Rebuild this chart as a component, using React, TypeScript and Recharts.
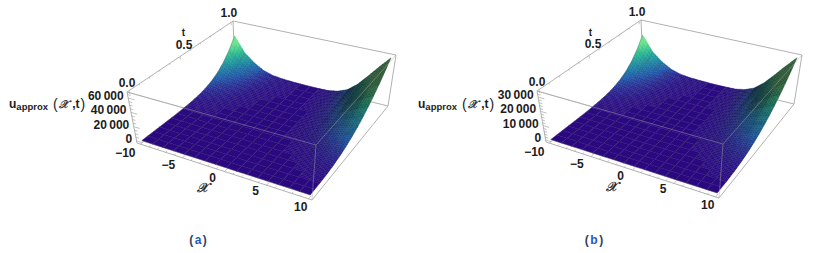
import { ScatterChart, Scatter, XAxis, YAxis } from "recharts";

const PANEL_W = 407;
const PANEL_H = 253;

// mesh nodes
const xNodes = [-10, -8.75, -7.5, -6.25, -5, -3.75, -2.5, -1.25, 0, 1.25, 2.5, 3.75, 5, 6.25, 7.5, 8.75, 10];
const tNodes = [0, 0.0625, 0.125, 0.1875, 0.25, 0.3125, 0.375, 0.4375, 0.5, 0.5625, 0.625, 0.6875, 0.75, 0.8125, 0.875, 0.9375, 1];

// u values, one row per t node
const uValuesA = [
  [0, 0, 0, 0, 0, 0, 0, 0, 0, 0, 0, 0, 0, 0, 0, 0, 0],
  [0, 0, 0, 0, 0, 0, 0, 0, 0, 0, 0, 0, 1, 2, 4, 8, 16],
  [0, 1, 1, 0, 0, 0, 2, 1, 1, 1, 2, 5, 14, 30, 64, 100, 132],
  [3, 3, 4, 2, 2, 2, 5, 3, 3, 3, 7, 16, 46, 99, 211, 330, 435],
  [12, 14, 15, 7, 6, 6, 12, 8, 6, 8, 16, 39, 109, 234, 500, 780, 1030],
  [40, 46, 45, 21, 16, 14, 24, 15, 12, 15, 30, 76, 214, 458, 976, 1525, 2010],
  [140, 120, 111, 52, 36, 30, 42, 26, 21, 26, 53, 132, 369, 790, 1690, 2635, 3480],
  [340, 286, 240, 112, 72, 55, 67, 42, 33, 42, 84, 209, 586, 1255, 2680, 4185, 5520],
  [765, 590, 465, 217, 133, 94, 100, 62, 50, 62, 125, 440, 1130, 2490, 4500, 6500, 8250],
  [1550, 1130, 840, 392, 225, 150, 142, 89, 71, 89, 178, 620, 1610, 3550, 6400, 9300, 11750],
  [2900, 2030, 1430, 665, 363, 230, 195, 122, 98, 122, 244, 850, 2200, 4870, 8780, 12800, 16100],
  [5200, 3430, 2300, 1070, 555, 335, 260, 163, 130, 163, 325, 1140, 2930, 6480, 11700, 17000, 21450],
  [8700, 5500, 3550, 1660, 820, 470, 338, 211, 169, 211, 422, 1480, 3800, 8400, 15200, 22100, 27850],
  [14100, 8600, 5300, 2480, 1180, 650, 430, 268, 214, 268, 536, 1880, 4840, 10700, 19300, 28000, 35400],
  [22000, 13000, 7700, 3590, 1650, 880, 536, 335, 268, 335, 670, 2350, 6050, 13400, 24100, 35000, 44200],
  [33300, 18900, 10900, 5070, 2240, 1160, 660, 410, 330, 410, 820, 2880, 7440, 16500, 29700, 43000, 54400],
  [49000, 27000, 15000, 7000, 3000, 1500, 800, 500, 400, 500, 1000, 3500, 9000, 20000, 35000, 51000, 66000],
];

// u values
const uValuesB = [
  [0, 0, 0, 0, 0, 0, 0, 0, 0, 0, 0, 0, 0, 0, 0, 0, 0],
  [0, 0, 0, 0, 0, 0, 0, 0, 0, 0, 0, 0, 1, 1, 2, 4, 8],
  [0, 0, 0, 0, 0, 0, 1, 1, 1, 1, 1, 3, 7, 15, 32, 50, 66],
  [2, 2, 2, 1, 1, 1, 3, 2, 2, 2, 4, 8, 23, 50, 105, 165, 218],
  [6, 7, 8, 4, 3, 3, 6, 4, 3, 4, 8, 20, 55, 117, 250, 390, 515],
  [20, 23, 23, 11, 8, 7, 12, 8, 6, 8, 15, 38, 107, 229, 488, 762, 1005],
  [70, 60, 56, 26, 18, 15, 21, 13, 11, 13, 27, 66, 185, 395, 845, 1318, 1740],
  [170, 143, 120, 56, 36, 28, 34, 21, 17, 21, 42, 105, 293, 628, 1340, 2092, 2760],
  [382, 295, 232, 108, 66, 47, 50, 31, 25, 31, 62, 220, 565, 1245, 2250, 3250, 4125],
  [775, 565, 420, 196, 112, 75, 71, 44, 36, 44, 89, 310, 805, 1775, 3200, 4650, 5875],
  [1450, 1015, 715, 332, 182, 115, 98, 61, 49, 61, 122, 425, 1100, 2435, 4390, 6400, 8050],
  [2600, 1715, 1150, 535, 278, 168, 130, 82, 65, 82, 162, 570, 1465, 3240, 5850, 8500, 10725],
  [4350, 2750, 1775, 830, 410, 235, 169, 106, 85, 106, 211, 740, 1900, 4200, 7600, 11050, 13925],
  [7050, 4300, 2650, 1240, 590, 325, 215, 134, 107, 134, 268, 940, 2420, 5350, 9650, 14000, 17700],
  [11000, 6500, 3850, 1795, 825, 440, 268, 168, 134, 168, 335, 1175, 3025, 6700, 12050, 17500, 22100],
  [16650, 9450, 5450, 2535, 1120, 580, 330, 205, 165, 205, 410, 1440, 3720, 8250, 14850, 21500, 27200],
  [24500, 13500, 7500, 3500, 1500, 750, 400, 250, 200, 250, 500, 1750, 4500, 10000, 17500, 25500, 33000],
];

const xMajor = [-10, -5, 0, 5, 10];
const xMinor = [-9, -8, -7, -6, -4, -3, -2, -1, 1, 2, 3, 4, 6, 7, 8, 9];
const tMajor = [0, 0.5, 1];
const tMinor = [0.1, 0.2, 0.3, 0.4, 0.6, 0.7, 0.8, 0.9];
const uMajorA = [0, 20000, 40000, 60000];
const uMinorA = [5000, 10000, 15000, 25000, 30000, 35000, 45000, 50000, 55000, 65000];
const uMajorB = [0, 10000, 20000, 30000];
const uMinorB = [2000, 4000, 6000, 8000, 12000, 14000, 16000, 18000, 22000, 24000, 26000, 28000, 32000];
const xLabels = ["\u221210", "\u22125", "0", "5", "10"];
const tLabels = ["0.0", "0.5", "1.0"];
const uLabelsA = ["0", "20\u2009000", "40\u2009000", "60\u2009000"];
const uLabelsB = ["0", "10\u2009000", "20\u2009000", "30\u2009000"];

// box corners on the page, named x / t / u (0 low, 1 high)
const boxA = {
  c000: [137, 143], c100: [312, 200], c010: [235, 68], c110: [388, 106],
  c001: [127, 92], c101: [316, 145], c011: [233, 21], c111: [396, 55],
};
const boxB = {
  c000: [139, 142], c100: [312, 198], c010: [236, 67], c110: [387, 104],
  c001: [130, 91], c101: [316, 144], c011: [234, 20], c111: [395, 55],
};

const colorStops: [number, number[]][] = [
  [0, [42, 8, 128]],
  [0.06, [40, 42, 148]],
  [0.14, [31, 90, 170]],
  [0.28, [30, 140, 160]],
  [0.42, [40, 182, 146]],
  [0.6, [104, 228, 140]],
  [1, [128, 240, 138]],
];

const FONT = "'Liberation Sans', Arial, sans-serif";

function rampColor(h: number, shade: number) {
  const v = Math.max(0, Math.min(1, h));
  let i = 0;
  while (i < colorStops.length - 2 && v > colorStops[i + 1][0]) i++;
  const [a, ca] = colorStops[i];
  const [b, cb] = colorStops[i + 1];
  const f = (v - a) / (b - a);
  const c = ca.map((q, k) => Math.round((q + (cb[k] - q) * f) * shade));
  return `rgb(${c[0]},${c[1]},${c[2]})`;
}

function makeProjection(box: any, uMax: number) {
  const zMin = -uMax * 0.0475;
  const zMax = uMax * 1.1417;
  return (x: number, t: number, u: number): [number, number] => {
    const fx = (x + 10.4) / 20.8;
    const ft = (t + 0.02) / 1.04;
    const fz = (u - zMin) / (zMax - zMin);
    const mix = (k: number) =>
      box.c000[k] * (1 - fx) * (1 - ft) * (1 - fz) +
      box.c100[k] * fx * (1 - ft) * (1 - fz) +
      box.c010[k] * (1 - fx) * ft * (1 - fz) +
      box.c110[k] * fx * ft * (1 - fz) +
      box.c001[k] * (1 - fx) * (1 - ft) * fz +
      box.c101[k] * fx * (1 - ft) * fz +
      box.c011[k] * (1 - fx) * ft * fz +
      box.c111[k] * fx * ft * fz;
    return [mix(0), mix(1)];
  };
}

// one mesh cell, split up so the colour runs smoothly across it
function CellShape(props: any) {
  const { cx, cy, payload } = props;
  const { px, py, project, x0, x1, t0, t1, u00, u10, u01, u11, uMax } = payload;
  const at = (fx: number, ft: number) => {
    const u = (u00 * (1 - fx) + u10 * fx) * (1 - ft) + (u01 * (1 - fx) + u11 * fx) * ft;
    const [qx, qy] = project(x0 + (x1 - x0) * fx, t0 + (t1 - t0) * ft, u);
    return { sx: cx + qx - px, sy: cy + qy - py, u };
  };
  const spread = Math.max(u00, u10, u01, u11) - Math.min(u00, u10, u01, u11);
  const n = spread / uMax > 0.004 ? 4 : 1;
  const slope = ((u10 + u11) / 2 - (u00 + u01) / 2) / uMax;
  const shade = 1 - Math.min(0.62, Math.max(0, slope) * 4.5);
  const faces = [];
  for (let i = 0; i < n; i++) {
    for (let j = 0; j < n; j++) {
      const p = [at(i / n, j / n), at((i + 1) / n, j / n), at((i + 1) / n, (j + 1) / n), at(i / n, (j + 1) / n)];
      const mid = (p[0].u + p[1].u + p[2].u + p[3].u) / 4;
      const fill = rampColor(mid / uMax, shade);
      faces.push(
        <polygon
          key={`${i}-${j}`}
          points={p.map((q) => `${q.sx},${q.sy}`).join(" ")}
          fill={fill}
          stroke={fill}
          strokeWidth={0.4}
        />
      );
    }
  }
  const a = at(0, 0);
  const b = at(1, 0);
  const d = at(0, 1);
  return (
    <g>
      {faces}
      <line x1={a.sx} y1={a.sy} x2={b.sx} y2={b.sy} stroke="#505050" strokeOpacity={0.5} strokeWidth={0.6} />
      <line x1={a.sx} y1={a.sy} x2={d.sx} y2={d.sy} stroke="#505050" strokeOpacity={0.5} strokeWidth={0.6} />
    </g>
  );
}

function SegShape(props: any) {
  const { cx, cy, payload } = props;
  return (
    <line
      x1={cx}
      y1={cy}
      x2={cx + payload.ex - payload.px}
      y2={cy + payload.ey - payload.py}
      stroke={payload.stroke}
      strokeOpacity={payload.opacity}
      strokeWidth={payload.width}
    />
  );
}

function LabelShape(props: any) {
  const { cx, cy, payload } = props;
  return (
    <text
      x={cx + payload.dx}
      y={cy + payload.dy}
      textAnchor={payload.anchor}
      dominantBaseline="central"
      fontFamily={FONT}
      fontWeight="bold"
      fontSize={12}
      fill="#1c1c1c"
    >
      {payload.text}
    </text>
  );
}

function seg(p: number[], e: number[], stroke: string, opacity: number, width: number) {
  return { px: p[0], py: p[1], ex: e[0], ey: e[1], stroke, opacity, width };
}

function Panel(props: any) {
  const { left, box, uValues, uMax, uMajor, uMinor, uLabels, caption, titleX, xGlyphX, xGlyphY, captionX } = props;
  const project = makeProjection(box, uMax);
  const fullU = uMax * 1.1;

  const cells = [];
  for (let j = tNodes.length - 2; j >= 0; j--) {
    for (let i = 0; i < xNodes.length - 1; i++) {
      const [px, py] = project(xNodes[i], tNodes[j], uValues[j][i]);
      cells.push({
        px, py, project, uMax: fullU,
        x0: xNodes[i], x1: xNodes[i + 1], t0: tNodes[j], t1: tNodes[j + 1],
        u00: uValues[j][i], u10: uValues[j][i + 1], u01: uValues[j + 1][i], u11: uValues[j + 1][i + 1],
      });
    }
  }

  const edge = (a: string, b: string, opacity = 1) => seg(box[a], box[b], "#a8a8a8", opacity, 0.9);
  const backEdges = [
    edge("c001", "c011"), edge("c011", "c111"), edge("c111", "c110"), edge("c001", "c000"),
    edge("c000", "c100"), edge("c100", "c110"), edge("c001", "c101"), edge("c010", "c011"), edge("c010", "c110"),
  ];
  const frontEdges = [
    edge("c001", "c101", 0.5), edge("c101", "c111", 0.5), edge("c101", "c100", 0.5),
  ];

  const ticks = [];
  const tick = (a: [number, number], b: [number, number]) => ticks.push(seg(a, b, "#a8a8a8", 1, 0.7));
  const xEdge = -10.4;
  xMajor.forEach((x) => tick(project(x, -0.02, -uMax * 0.0475), project(x, 0.015, -uMax * 0.0475)));
  xMinor.forEach((x) => tick(project(x, -0.02, -uMax * 0.0475), project(x, -0.002, -uMax * 0.0475)));
  tMajor.forEach((t) => tick(project(xEdge, t, uMax * 1.1417), project(xEdge, t, uMax * 1.07)));
  tMinor.forEach((t) => tick(project(xEdge, t, uMax * 1.1417), project(xEdge, t, uMax * 1.105)));
  uMajor.forEach((u: number) => tick(project(xEdge, -0.02, u), project(xEdge + 0.7, -0.02, u)));
  uMinor.forEach((u: number) => tick(project(xEdge, -0.02, u), project(xEdge + 0.35, -0.02, u)));

  const xOffsets = [[-15, 9], [-14, 7], [-12, 6], [-11, 6], [-8, 8]];
  const tOffsets = [[-2, -8], [4, -12], [-2, -9]];
  const labels = [
    ...xMajor.map((x, i) => {
      const [px, py] = project(x, -0.02, -uMax * 0.0475);
      return { px, py, dx: xOffsets[i][0], dy: xOffsets[i][1], text: xLabels[i], anchor: "middle" };
    }),
    ...tMajor.map((t, i) => {
      const [px, py] = project(xEdge, t, uMax * 1.1417);
      return { px, py, dx: tOffsets[i][0], dy: tOffsets[i][1], text: tLabels[i], anchor: "middle" };
    }),
    ...uMajor.map((u: number, i: number) => {
      const [px, py] = project(xEdge, -0.02, u);
      return { px, py, dx: -4.5, dy: -2, text: uLabels[i], anchor: "end" };
    }),
  ];

  const titles = [{ px: titleX, py: 104 }];
  const tTitle = [{ px: 183.5, py: 32 }];
  const xTitle = [{ px: xGlyphX, py: xGlyphY }];
  const captions = [{ px: captionX, py: 240 }];

  return (
    <div style={{ position: "absolute", left, top: 0, width: PANEL_W, height: PANEL_H }}>
      <ScatterChart width={PANEL_W} height={PANEL_H} margin={{ top: 0, right: 0, bottom: 0, left: 0 }}>
        <XAxis type="number" dataKey="px" domain={[0, PANEL_W]} hide />
        <YAxis type="number" dataKey="py" domain={[0, PANEL_H]} reversed hide />
        <Scatter data={backEdges} shape={SegShape} isAnimationActive={false} />
        <Scatter data={ticks} shape={SegShape} isAnimationActive={false} />
        <Scatter data={cells} shape={CellShape} isAnimationActive={false} />
        <Scatter data={frontEdges} shape={SegShape} isAnimationActive={false} />
        <Scatter data={labels} shape={LabelShape} isAnimationActive={false} />
        <Scatter
          data={titles}
          isAnimationActive={false}
          shape={(p: any) => (
            <text x={p.cx} y={p.cy} fontFamily={FONT} fontWeight="bold" fontSize={12} fill="#1c1c1c" dominantBaseline="central">
              u
              <tspan fontSize={9.5} dy={2}>approx</tspan>
              <tspan dx={5} dy={-2} fontWeight="normal" fontSize={14}>(</tspan>
              <tspan dx={1.5} fontFamily="'DejaVu Sans'" fontStyle="italic" fontWeight="normal" fontSize={11} stroke="#1c1c1c" strokeWidth={0.35}>𝒳</tspan>
              <tspan dx={4}>,t</tspan>
              <tspan dx={1} fontWeight="normal" fontSize={14}>)</tspan>
            </text>
          )}
        />
        <Scatter
          data={tTitle}
          isAnimationActive={false}
          shape={(p: any) => (
            <text x={p.cx} y={p.cy} textAnchor="middle" dominantBaseline="central" fontFamily={FONT} fontWeight="bold" fontSize={10} fill="#1c1c1c">
              t
            </text>
          )}
        />
        <Scatter
          data={xTitle}
          isAnimationActive={false}
          shape={(p: any) => (
            <text x={p.cx} y={p.cy} textAnchor="middle" dominantBaseline="central" fontFamily="'DejaVu Sans'" fontStyle="italic" fontSize={13} fill="#1c1c1c" stroke="#1c1c1c" strokeWidth={0.4}>
              𝒳
            </text>
          )}
        />
        <Scatter
          data={captions}
          isAnimationActive={false}
          shape={(p: any) => (
            <text x={p.cx} y={p.cy} textAnchor="middle" dominantBaseline="central" fontFamily={FONT} fontWeight="bold" fontSize={12} fill="#33415c">
              {"("}
              <tspan dx={1.5} fill="#1f57c8">{caption}</tspan>
              <tspan dx={1.5}>{")"}</tspan>
            </text>
          )}
        />
      </ScatterChart>
    </div>
  );
}

export default function App() {
  return (
    <div style={{ position: "absolute", left: 0, top: 0, width: 814, height: 253, background: "#fff", overflow: "hidden" }}>
      <Panel
        left={0}
        box={boxA}
        uValues={uValuesA}
        uMax={60000}
        uMajor={uMajorA}
        uMinor={uMinorA}
        uLabels={uLabelsA}
        caption="a"
        titleX={9}
        xGlyphX={202}
        xGlyphY={187}
        captionX={198}
      />
      <Panel
        left={407}
        box={boxB}
        uValues={uValuesB}
        uMax={30000}
        uMajor={uMajorB}
        uMinor={uMinorB}
        uLabels={uLabelsB}
        caption="b"
        titleX={11}
        xGlyphX={204}
        xGlyphY={186}
        captionX={187}
      />
    </div>
  );
}
